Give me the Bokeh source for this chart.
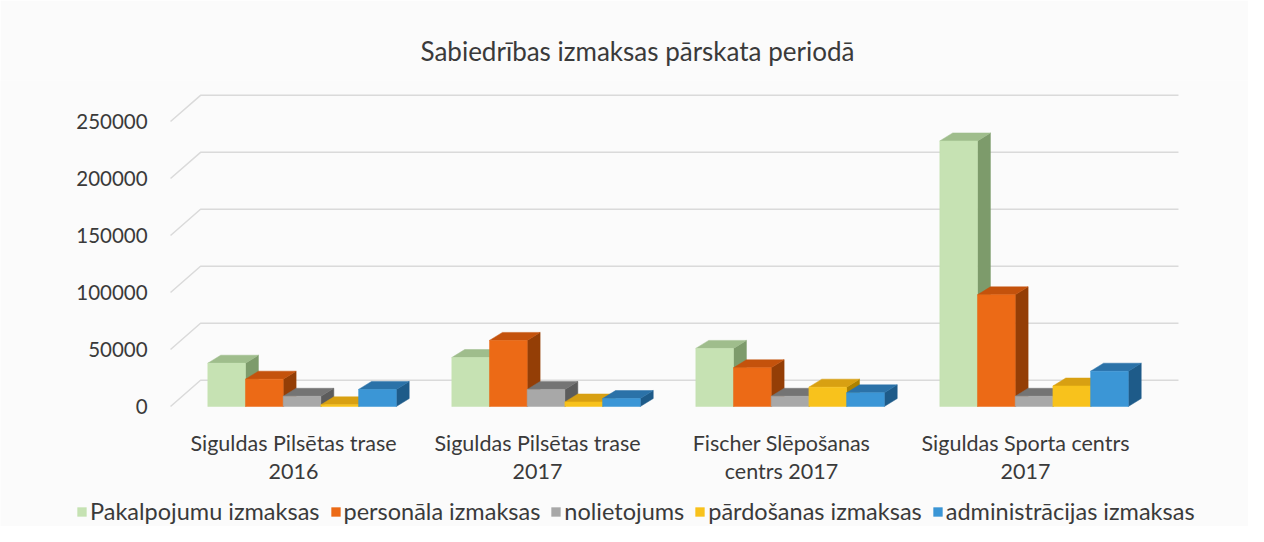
from bokeh.plotting import figure
from bokeh.models import Range1d, Legend, LegendItem
from bokeh.core.properties import value
from bokeh.embed import file_html
from bokeh.resources import INLINE

# ---------------- data ----------------
categories = ["Siguldas Pilsētas trase\n2016", "Siguldas Pilsētas trase\n2017",
              "Fischer Slēpošanas\ncentrs 2017", "Siguldas Sporta centrs\n2017"]
series_names = ["Pakalpojumu izmaksas", "personāla izmaksas", "nolietojums",
                "pārdošanas izmaksas", "administrācijas izmaksas"]
pakalpojumu = [38000, 43000, 51000, 233000]
personala = [24000, 58000, 34000, 98000]
nolietojums = [9000, 15000, 9000, 9000]
pardosanas = [1500, 4000, 17000, 18000]
administracijas = [15000, 7000, 12000, 31000]
y_ticks = [0, 50000, 100000, 150000, 200000, 250000]
y_tick_labels = ["0", "50000", "100000", "150000", "200000", "250000"]
title_text = "Sabiedrības izmaksas pārskata periodā"

series_values = [pakalpojumu, personala, nolietojums, pardosanas, administracijas]

# (front, top, side) colours
colors = [("#c6e2b3", "#9fbd8c", "#7d9b6b"),
          ("#ec6a16", "#c4520c", "#943e06"),
          ("#a8a8a8", "#747474", "#5c5c5c"),
          ("#f8c21c", "#d8a012", "#ad8200"),
          ("#3b96d6", "#2b72a8", "#1e5b89")]

FONT = "Lato"
TXT = "#3a3a3a"

# ---------------- geometry (styles) ----------------
bar_w = 0.1545      # width of one bar in group units
shift = 0.035       # bars sit slightly right of the category label
dx = 0.053          # depth offset (x)
dy = 7000           # depth offset (y)
grid_dy = 23000     # back wall offset
grid_x_front = -0.504
grid_x_back = -0.381
grid_x_end = 3.627
ylab_x = -0.598     # right edge of the value labels
cat_y = -21000      # top of the category labels

p = figure(width=1248, height=526,
           x_range=Range1d(-1.2008, 3.9139), y_range=Range1d(-105263, 286000),
           output_backend="svg", toolbar_location=None,
           min_border_left=0, min_border_right=0,
           min_border_top=80, min_border_bottom=0)

p.background_fill_color = "#fbfbfb"
p.border_fill_color = "#fbfbfb"
p.outline_line_color = None
p.xgrid.visible = False
p.ygrid.visible = False
p.xaxis.visible = False
p.yaxis.visible = False

# back-wall gridlines with the diagonal from the front
for v in y_ticks:
    p.line([grid_x_front, grid_x_back, grid_x_end], [v, v + grid_dy, v + grid_dy],
           line_color="#dadada", line_width=1.5)

# value labels
p.text(x=[ylab_x] * len(y_ticks), y=y_ticks, text=y_tick_labels,
       text_align="right", text_baseline="middle",
       text_font=value(FONT), text_font_size="20.5px", text_color=TXT)

# category labels
p.text(x=list(range(len(categories))), y=[cat_y] * len(categories), text=categories,
       text_align="center", text_baseline="top", text_line_height=1.05,
       text_font=value(FONT), text_font_size="21.5px", text_color=TXT)

legend_items = []
for j, vals in enumerate(series_values):
    front_c, top_c, side_c = colors[j]
    lefts, rights, tops = [], [], []
    side_xs, side_ys, top_xs, top_ys = [], [], [], []
    for i, v in enumerate(vals):
        xl = i + shift + (j - 2.5) * bar_w
        xr = xl + bar_w
        lefts.append(xl); rights.append(xr); tops.append(v)
        side_xs.append([xr, xr + dx, xr + dx, xr])
        side_ys.append([0, dy, v + dy, v])
        top_xs.append([xl, xl + dx, xr + dx, xr])
        top_ys.append([v, v + dy, v + dy, v])
    p.patches(side_xs, side_ys, fill_color=side_c, line_color=side_c, line_width=0.5)
    p.patches(top_xs, top_ys, fill_color=top_c, line_color=top_c, line_width=0.5)
    r = p.quad(left=lefts, right=rights, bottom=[0] * len(vals), top=tops,
               fill_color=front_c, line_color=front_c, line_width=0.5)
    legend_items.append(LegendItem(label=series_names[j], renderers=[r]))

# ---------------- title ----------------
p.title.text = title_text
p.title.align = "left"
p.title.offset = 420
p.title.standoff = 27
p.title.text_font = FONT
p.title.text_font_style = "normal"
p.title.text_font_size = "26px"
p.title.text_color = TXT

# ---------------- legend ----------------
legend = Legend(items=legend_items, orientation="horizontal", location=(76, 1),
                label_text_font=FONT, label_text_font_size="23.5px",
                label_text_color=TXT, glyph_width=11, glyph_height=11,
                label_standoff=3, spacing=10, padding=2, margin=0,
                border_line_color=None, background_fill_alpha=0)
p.add_layout(legend)

open("out.html", "w").write(file_html(p, INLINE))
